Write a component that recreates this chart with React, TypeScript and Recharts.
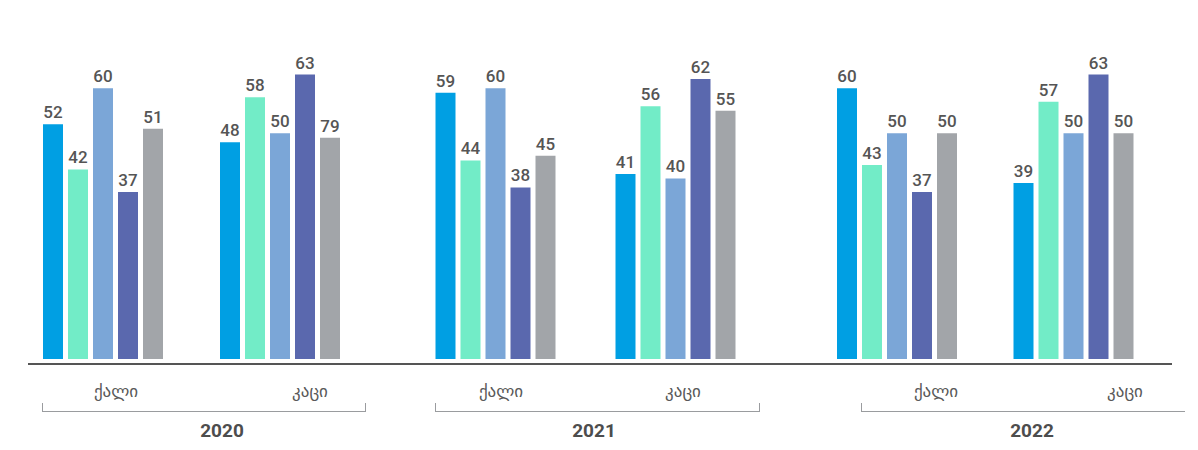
import { BarChart, Bar, XAxis, YAxis, LabelList } from 'recharts'

const YEARS = ['2020', '2021', '2022']
const GENDERS = ['ქალი', 'კაცი']

// one value per group, order: 2020 ქალი, 2020 კაცი, 2021 ქალი, 2021 კაცი, 2022 ქალი, 2022 კაცი
const SERIES_1 = [52, 48, 59, 41, 60, 39]
const SERIES_2 = [42, 58, 44, 56, 43, 57]
const SERIES_3 = [60, 50, 60, 40, 50, 50]
const SERIES_4 = [37, 63, 38, 62, 37, 63]
const SERIES_5 = [51, 49, 45, 55, 50, 50]
// the grey bar of 2020 კაცი is printed as 79 although it is drawn at ~49
const SERIES_5_LABELS = [51, 79, 45, 55, 50, 50]

const COLORS = ['#009fe3', '#72ecc7', '#7ba6d7', '#5a68ae', '#a2a5a9']
const FONT = 'Roboto, "DejaVu Sans", sans-serif'

// one small chart per year, laid side by side so the year gaps come out right
const LAYOUT = [
  { width: 388, left: 28, right: 0, barPad: { left: -14, right: 20 }, tickPad: { left: -9, right: -19 } },
  { width: 398, left: 0, right: 0, barPad: { left: 17.5, right: 20.5 }, tickPad: { left: 22, right: 12 } },
  { width: 412, left: 0, right: 26, barPad: { left: 23, right: 10 }, tickPad: { left: 55.5, right: -47.5 } },
]

const BRACKETS = [
  { left: 42, width: 322, closed: true, center: 222 },
  { left: 435, width: 323, closed: true, center: 594 },
  { left: 861, width: 323, closed: false, center: 1032 },
]

function rowsFor(yearIdx: number) {
  return GENDERS.map((g, gi) => {
    const i = yearIdx * 2 + gi
    return {
      gender: g,
      s1: SERIES_1[i],
      s2: SERIES_2[i],
      s3: SERIES_3[i],
      s4: SERIES_4[i],
      s5: SERIES_5[i],
      l5: SERIES_5_LABELS[i],
    }
  })
}

const GenderTick = (props: any) => {
  const { x, y, payload } = props
  return (
    <text x={x} y={y + 32} textAnchor="middle" fill="#595959" fontSize={17} fontFamily={FONT}>
      {payload.value}
    </text>
  )
}

const labelStyle = { fill: '#555', fontSize: 17, fontWeight: 500, fontFamily: FONT }

function YearChart({ yearIdx }: { yearIdx: number }) {
  const cfg = LAYOUT[yearIdx]
  const data = rowsFor(yearIdx)
  const keys = ['s1', 's2', 's3', 's4', 's5']
  return (
    <BarChart
      width={cfg.width}
      height={410}
      data={data}
      margin={{ top: 43, right: cfg.right, bottom: 4, left: cfg.left }}
      barGap={5}
    >
      <YAxis hide domain={[-1.1, 70]} />
      <XAxis
        dataKey="gender"
        tick={false}
        tickLine={false}
        height={1}
        axisLine={{ stroke: '#555', strokeWidth: 2 }}
        padding={cfg.barPad}
      />
      <XAxis
        xAxisId="labels"
        dataKey="gender"
        axisLine={false}
        tickLine={false}
        tickSize={0}
        tickMargin={0}
        height={41}
        interval={0}
        padding={cfg.tickPad}
        tick={<GenderTick />}
      />
      {keys.map((k, i) => (
        <Bar key={k} dataKey={k} fill={COLORS[i]} barSize={20} isAnimationActive={false}>
          <LabelList dataKey={k === 's5' ? 'l5' : k} position="top" offset={6} style={labelStyle} />
        </Bar>
      ))}
    </BarChart>
  )
}

export default function App() {
  return (
    <div style={{ position: 'absolute', left: 0, top: 0, width: 1198, height: 450, background: '#fff', fontFamily: FONT }}>
      <div style={{ display: 'flex' }}>
        {YEARS.map((y, i) => (
          <YearChart key={y} yearIdx={i} />
        ))}
      </div>
      {BRACKETS.map((b, i) => (
        <div key={YEARS[i]}>
          <div
            style={{
              position: 'absolute',
              left: b.left,
              top: 403,
              width: b.width,
              height: 8,
              borderLeft: '1.5px solid #9a9c9f',
              borderRight: b.closed ? '1.5px solid #9a9c9f' : 'none',
              borderBottom: '1.5px solid #9a9c9f',
            }}
          />
          <div
            style={{
              position: 'absolute',
              left: b.center - 50,
              width: 100,
              top: 421,
              lineHeight: '19px',
              fontSize: 19,
              fontWeight: 700,
              color: '#4d4d4d',
              textAlign: 'center',
            }}
          >
            {YEARS[i]}
          </div>
        </div>
      ))}
    </div>
  )
}
